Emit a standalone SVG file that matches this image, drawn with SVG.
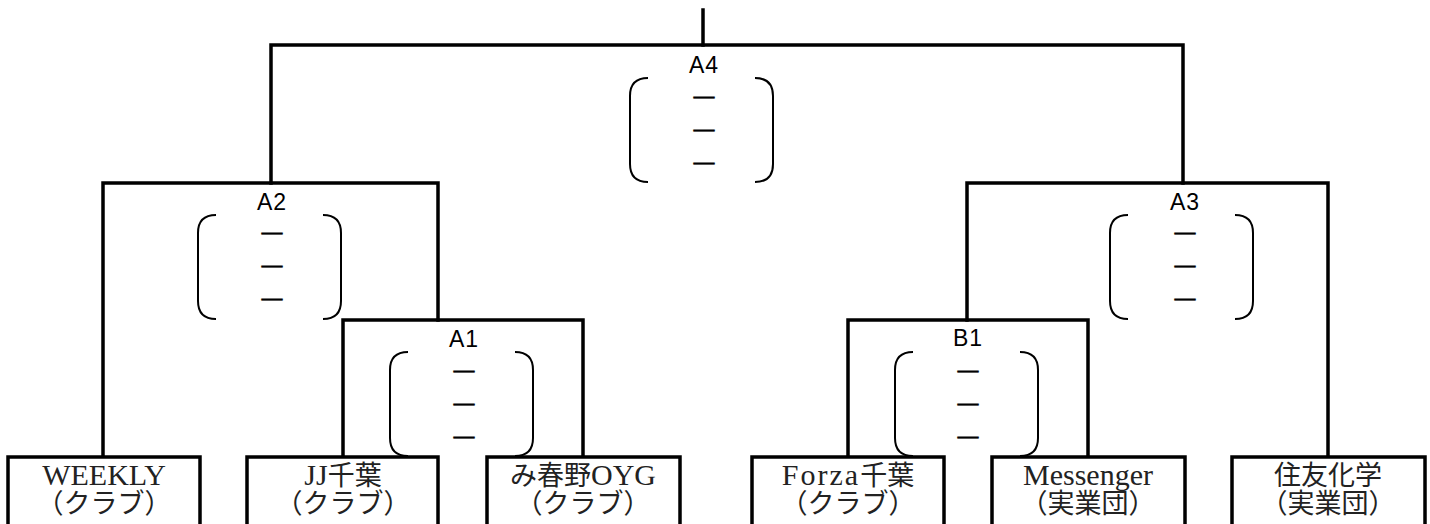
<svg xmlns="http://www.w3.org/2000/svg" width="1430" height="524" viewBox="0 0 1430 524">
<style>
.ln{fill:none;stroke:#000;stroke-width:3.5;stroke-linejoin:miter;stroke-linecap:square}
.box{fill:#fff;stroke:#000;stroke-width:3.5}
.br{fill:none;stroke:#000;stroke-width:2}
.lab{font-family:"Liberation Sans",Arial,sans-serif;font-size:23px;letter-spacing:1px;text-anchor:middle;fill:#000}
.dash{font-family:"Liberation Sans",Arial,sans-serif;font-size:21px;text-anchor:middle;fill:#000;stroke:#000;stroke-width:0.6}
.team{font-family:"Liberation Serif","Noto Sans CJK JP",serif;font-size:27px;text-anchor:middle;fill:#222}
.lat{font-size:30px}
</style>
<defs>
<path id="brk" class="br" d="M18,0 Q0,0 0,18 V86 Q0,104 18,104 M125,0 Q143,0 143,18 V86 Q143,104 125,104"/>
<g id="dashes">
<text class="dash" x="0" y="6">—</text>
<text class="dash" x="0" y="39">—</text>
<text class="dash" x="0" y="72">—</text>
</g>
</defs>
<rect width="1430" height="524" fill="#fff"/>
<g id="connectors">
<path class="ln" d="M703,10 V45"/>
<path class="ln" d="M271,183 V45 H1183 V183"/>
<path class="ln" d="M103,457 V183 H438 V320"/>
<path class="ln" d="M343,457 V320 H583 V457"/>
<path class="ln" d="M967,320 V183 H1328 V457"/>
<path class="ln" d="M848,457 V320 H1088 V457"/>
</g>
<g id="A4">
<text class="lab" x="704" y="73">A4</text>
<use href="#brk" x="630" y="78"/>
<use href="#dashes" x="704" y="97"/>
</g>
<g id="A2">
<text class="lab" x="272" y="210">A2</text>
<use href="#brk" x="198" y="215"/>
<use href="#dashes" x="272" y="233"/>
</g>
<g id="A3">
<text class="lab" x="1185" y="210">A3</text>
<use href="#brk" x="1110" y="215"/>
<use href="#dashes" x="1185" y="233"/>
</g>
<g id="A1">
<text class="lab" x="464" y="347">A1</text>
<use href="#brk" x="390" y="352"/>
<use href="#dashes" x="464" y="371"/>
</g>
<g id="B1">
<text class="lab" x="968" y="346">B1</text>
<use href="#brk" x="895" y="352"/>
<use href="#dashes" x="968" y="371"/>
</g>
<g id="team-weekly">
<rect class="box" x="8" y="457" width="192" height="80"/>
<text class="team" x="104" y="485"><tspan class="lat">WEEKLY</tspan></text>
<text class="team" x="104" y="513">（クラブ）</text>
</g>
<g id="team-jj">
<rect class="box" x="247" y="457" width="191" height="80"/>
<text class="team" x="343" y="485"><tspan class="lat">JJ</tspan>千葉</text>
<text class="team" x="343" y="513">（クラブ）</text>
</g>
<g id="team-mikasuga">
<rect class="box" x="487" y="457" width="193" height="80"/>
<text class="team" x="583" y="485">み春野<tspan class="lat">OYG</tspan></text>
<text class="team" x="583" y="513">（クラブ）</text>
</g>
<g id="team-forza">
<rect class="box" x="752" y="457" width="192" height="80"/>
<text class="team" x="848" y="485"><tspan class="lat" letter-spacing="2">Forza</tspan>千葉</text>
<text class="team" x="848" y="513">（クラブ）</text>
</g>
<g id="team-messenger">
<rect class="box" x="992" y="457" width="193" height="80"/>
<text class="team" x="1088" y="485"><tspan class="lat">Messenger</tspan></text>
<text class="team" x="1088" y="513">（実業団）</text>
</g>
<g id="team-sumitomo">
<rect class="box" x="1232" y="457" width="193" height="80"/>
<text class="team" x="1328" y="485">住友化学</text>
<text class="team" x="1328" y="513">（実業団）</text>
</g>
</svg>
